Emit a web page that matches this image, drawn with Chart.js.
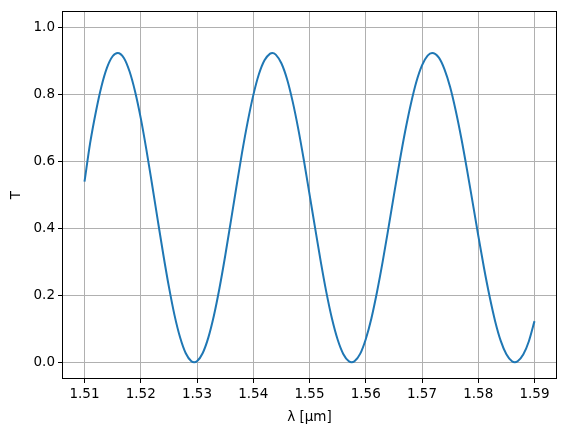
<!DOCTYPE html>
<html>
<head>
<meta charset="utf-8">
<script src="https://cdn.jsdelivr.net/npm/chart.js@4.4.1/dist/chart.umd.min.js"></script>
<style>
  html, body { margin: 0; padding: 0; background: #fff; }
  #wrap { width: 567px; height: 432px; }
</style>
</head>
<body>
<div id="wrap"><canvas id="chart"></canvas></div>
<script>
// wavelength samples [µm] and transmission
// (extra samples at each peak and dip so the curve turns where the picture does)
const lambdaUm = [
  1.510, 1.511, 1.512, 1.513, 1.514, 1.515, 1.5159, 1.517, 1.518, 1.519,
  1.520, 1.521, 1.522, 1.523, 1.524, 1.525, 1.526, 1.527, 1.528, 1.529,
  1.5295, 1.530, 1.531, 1.532, 1.533, 1.534, 1.535, 1.536, 1.537, 1.538, 1.539,
  1.540, 1.541, 1.542, 1.543, 1.5434, 1.544, 1.545, 1.546, 1.547, 1.548, 1.549,
  1.550, 1.551, 1.552, 1.553, 1.554, 1.555, 1.556, 1.557, 1.5575, 1.558, 1.559,
  1.560, 1.561, 1.562, 1.563, 1.564, 1.565, 1.566, 1.567, 1.568, 1.569,
  1.570, 1.571, 1.5718, 1.573, 1.574, 1.575, 1.576, 1.577, 1.578, 1.579,
  1.580, 1.581, 1.582, 1.583, 1.584, 1.585, 1.586, 1.5865, 1.587, 1.588, 1.589,
  1.590
];
const transmission = [
  0.540, 0.655, 0.747, 0.824, 0.881, 0.915, 0.925, 0.910, 0.870, 0.809,
  0.730, 0.636, 0.533, 0.427, 0.323, 0.226, 0.141, 0.074, 0.027, 0.003,
  0.000, 0.003, 0.027, 0.073, 0.139, 0.222, 0.317, 0.420, 0.524, 0.626, 0.718,
  0.798, 0.861, 0.903, 0.923, 0.925, 0.920, 0.894, 0.847, 0.780, 0.698, 0.604,
  0.503, 0.401, 0.301, 0.209, 0.130, 0.068, 0.025, 0.003, 0.000, 0.003, 0.025,
  0.069, 0.131, 0.210, 0.300, 0.398, 0.499, 0.598, 0.690, 0.771, 0.839,
  0.888, 0.917, 0.925, 0.911, 0.876, 0.823, 0.752, 0.669, 0.576, 0.478,
  0.379, 0.284, 0.198, 0.123, 0.064, 0.024, 0.003, 0.000, 0.003, 0.023, 0.063,
  0.123
];

const xTicks = [1.51, 1.52, 1.53, 1.54, 1.55, 1.56, 1.57, 1.58, 1.59];
const yTicks = [0.0, 0.2, 0.4, 0.6, 0.8, 1.0];

const FONT = "'DejaVu Sans', sans-serif";

// black box round the plot area, like matplotlib spines
const frame = {
  id: "frame",
  afterDraw(chart) {
    const a = chart.chartArea, c = chart.ctx;
    c.save();
    c.strokeStyle = "#000";
    c.lineWidth = 1;
    c.strokeRect(Math.round(a.left) + 0.5, Math.round(a.top) + 0.5,
                 Math.round(a.right - a.left) - 1, Math.round(a.bottom - a.top) - 1);
    c.restore();
  }
};

new Chart(document.getElementById("chart"), {
  type: "line",
  data: {
    datasets: [{
      data: lambdaUm.map((x, i) => ({ x: x, y: transmission[i] })),
      borderColor: "#1f77b4",
      borderWidth: 2,
      pointRadius: 0,
      fill: false,
      cubicInterpolationMode: "monotone"
    }]
  },
  options: {
    responsive: true,
    maintainAspectRatio: false,
    animation: false,
    layout: { padding: { top: 10, right: 10, left: 0, bottom: 0 } },
    plugins: { legend: { display: false }, tooltip: { enabled: false } },
    scales: {
      x: {
        type: "linear",
        min: 1.506,
        max: 1.594,
        afterBuildTicks: (s) => { s.ticks = xTicks.map(v => ({ value: v })); },
        afterFit: (s) => { s.height = 53; },
        ticks: {
          color: "#000",
          font: { family: FONT, size: 13.5 },
          padding: 3,
          maxRotation: 0,
          callback: (v) => Number(v).toFixed(2)
        },
        grid: { color: "#b0b0b0", lineWidth: 1, tickColor: "#000", tickLength: 4 },
        border: { display: false },
        title: {
          display: true,
          text: "λ [µm]",
          color: "#000",
          font: { family: FONT, size: 13.5 },
          padding: { top: 3, bottom: 6 }
        }
      },
      y: {
        type: "linear",
        min: -0.05,
        max: 1.05,
        afterBuildTicks: (s) => { s.ticks = yTicks.map(v => ({ value: v })); },
        afterFit: (s) => { s.width = 62; },
        ticks: {
          color: "#000",
          font: { family: FONT, size: 13.5 },
          padding: 3,
          callback: (v) => Number(v).toFixed(1)
        },
        grid: { color: "#b0b0b0", lineWidth: 1, tickColor: "#000", tickLength: 4 },
        border: { display: false },
        title: {
          display: true,
          text: "T",
          color: "#000",
          font: { family: FONT, size: 13.5 },
          padding: { top: 8, bottom: 0 }
        }
      }
    }
  },
  plugins: [frame]
});
</script>
</body>
</html>
